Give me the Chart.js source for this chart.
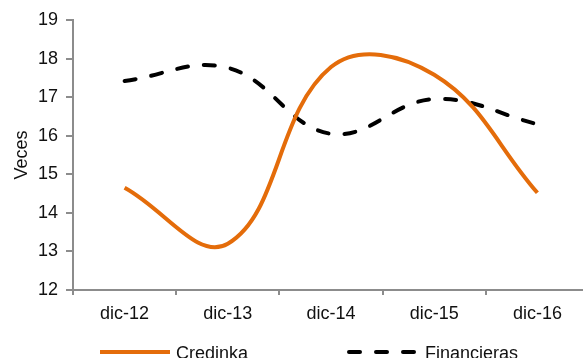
<!DOCTYPE html>
<html>
<head>
<meta charset="utf-8">
<script src="https://cdn.jsdelivr.net/npm/chart.js@4/dist/chart.umd.min.js"></script>
<style>
  html, body { margin: 0; padding: 0; overflow: hidden; background: #fff; }
  #wrap { position: absolute; left: 0; top: 0; width: 589px; height: 358px; }
  .leg { position: absolute; top: 344px; height: 18px; font: 18px 'Liberation Sans', Arial, sans-serif;
         line-height: 18px; color: #111; white-space: nowrap; }
  .leg svg { position: absolute; left: 0; top: 4px; }
  .leg span { position: absolute; left: 78px; top: 0; }
</style>
</head>
<body>
<div id="wrap"><canvas id="chart" width="589" height="358"></canvas></div>
<div id="legend"></div>
<script>
// datos
var labels = ["dic-12", "dic-13", "dic-14", "dic-15", "dic-16"];
var credinka = [14.65, 13.2, 17.78, 17.58, 14.52];
var financieras = [17.42, 17.76, 16.05, 16.95, 16.3];
var yTicks = [12, 13, 14, 15, 16, 17, 18, 19];

var font = "'Liberation Sans', Arial, sans-serif";
var axisGray = "#8c8c8c";

var canvas = document.getElementById("chart");
var chart = new Chart(canvas, {
  type: "line",
  data: {
    labels: labels,
    datasets: [
      {
        label: "Credinka",
        data: credinka,
        borderColor: "#E46C0A",
        backgroundColor: "#E46C0A",
        borderWidth: 4,
        tension: 0.4,
        pointRadius: 0,
        fill: false
      },
      {
        label: "Financieras",
        data: financieras,
        borderColor: "#000",
        backgroundColor: "#000",
        borderWidth: 4,
        borderDash: [11, 16],
        borderCapStyle: "round",
        tension: 0.4,
        pointRadius: 0,
        fill: false
      }
    ]
  },
  options: {
    responsive: false,
    animation: false,
    layout: { padding: { top: 20, right: 0, left: 0, bottom: 24 } },
    plugins: {
      tooltip: { enabled: false },
      legend: { display: false }
    },
    scales: {
      x: {
        offset: true,
        grid: { display: true, offset: true, drawOnChartArea: false, color: axisGray, lineWidth: 2, tickLength: 5 },
        border: { color: axisGray, width: 2 },
        ticks: { color: "#111", padding: 8, font: { family: font, size: 18 } },
        afterFit: function(s) { s.height = 44; }
      },
      y: {
        min: 12,
        max: 19,
        afterBuildTicks: function(s) { s.ticks = yTicks.map(function(v) { return { value: v }; }); },
        grid: { display: true, drawOnChartArea: false, color: axisGray, lineWidth: 2, tickLength: 7 },
        border: { color: axisGray, width: 2 },
        ticks: { color: "#111", padding: 8, autoSkip: false, font: { family: font, size: 18 } },
        title: { display: true, text: "Veces", color: "#111", padding: { top: 11, bottom: 0 }, font: { family: font, size: 18 } },
        afterFit: function(s) { s.width = 73; }
      }
    }
  }
});

// leyenda abajo, con las muestras de linea de cada serie
var legendLeft = [98, 347];
var legend = document.getElementById("legend");
chart.data.datasets.forEach(function(ds, i) {
  var item = document.createElement("div");
  item.className = "leg";
  item.style.left = legendLeft[i] + "px";
  var dash = ds.borderDash ? ' stroke-dasharray="' + ds.borderDash.join(" ") + '" stroke-linecap="round"' : "";
  item.innerHTML = '<svg width="74" height="8"><line x1="2" y1="4" x2="72" y2="4" stroke="' + ds.borderColor +
    '" stroke-width="4"' + dash + '/></svg><span>' + ds.label + '</span>';
  legend.appendChild(item);
});
</script>
</body>
</html>
